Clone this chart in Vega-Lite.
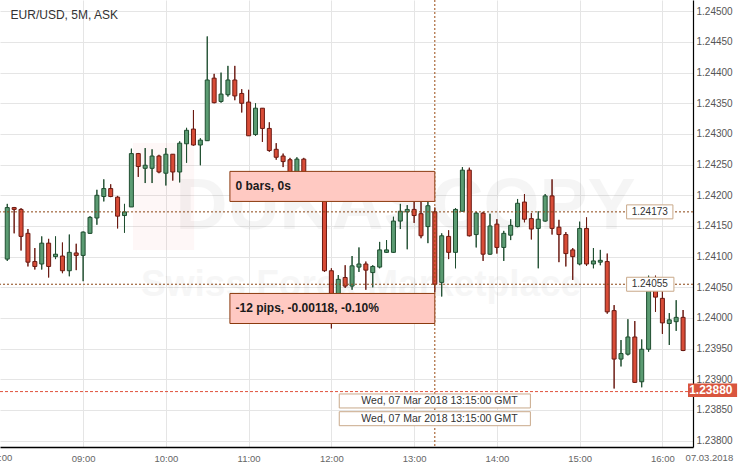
{
  "$schema": "https://vega.github.io/schema/vega-lite/v6.json",
  "width": 693,
  "height": 447,
  "autosize": {"type": "none"},
  "padding": {"left": 0, "top": 0, "right": 50, "bottom": 20},
  "background": "#ffffff",
  "config": {"view": {"stroke": null}, "font": "Liberation Sans"},
  "datasets": {
    "candles": [
      {"t":"2018-03-07T08:05:00Z","o":1.24096,"h":1.24186,"l":1.24093,"c":1.24180},
      {"t":"2018-03-07T08:10:00Z","o":1.24180,"h":1.24181,"l":1.24138,"c":1.24177},
      {"t":"2018-03-07T08:15:00Z","o":1.24177,"h":1.24179,"l":1.24110,"c":1.24133},
      {"t":"2018-03-07T08:20:00Z","o":1.24138,"h":1.24145,"l":1.24084,"c":1.24091},
      {"t":"2018-03-07T08:25:00Z","o":1.24092,"h":1.24114,"l":1.24079,"c":1.24084},
      {"t":"2018-03-07T08:30:00Z","o":1.24088,"h":1.24133,"l":1.24079,"c":1.24122},
      {"t":"2018-03-07T08:35:00Z","o":1.24122,"h":1.24129,"l":1.24066,"c":1.24084},
      {"t":"2018-03-07T08:40:00Z","o":1.24100,"h":1.24133,"l":1.24096,"c":1.24104},
      {"t":"2018-03-07T08:45:00Z","o":1.24101,"h":1.24123,"l":1.24073,"c":1.24077},
      {"t":"2018-03-07T08:50:00Z","o":1.24077,"h":1.24136,"l":1.24068,"c":1.24107},
      {"t":"2018-03-07T08:55:00Z","o":1.24106,"h":1.24121,"l":1.24078,"c":1.24102},
      {"t":"2018-03-07T09:00:00Z","o":1.24102,"h":1.24141,"l":1.24060,"c":1.24140},
      {"t":"2018-03-07T09:05:00Z","o":1.24138,"h":1.24166,"l":1.24137,"c":1.24164},
      {"t":"2018-03-07T09:10:00Z","o":1.24163,"h":1.24209,"l":1.24152,"c":1.24200},
      {"t":"2018-03-07T09:15:00Z","o":1.24198,"h":1.24226,"l":1.24190,"c":1.24211},
      {"t":"2018-03-07T09:20:00Z","o":1.24211,"h":1.24218,"l":1.24197,"c":1.24198},
      {"t":"2018-03-07T09:25:00Z","o":1.24197,"h":1.24199,"l":1.24146,"c":1.24166},
      {"t":"2018-03-07T09:30:00Z","o":1.24167,"h":1.24186,"l":1.24139,"c":1.24173},
      {"t":"2018-03-07T09:35:00Z","o":1.24181,"h":1.24276,"l":1.24181,"c":1.24268},
      {"t":"2018-03-07T09:40:00Z","o":1.24268,"h":1.24269,"l":1.24230,"c":1.24247},
      {"t":"2018-03-07T09:45:00Z","o":1.24244,"h":1.24277,"l":1.24220,"c":1.24249},
      {"t":"2018-03-07T09:50:00Z","o":1.24244,"h":1.24275,"l":1.24220,"c":1.24264},
      {"t":"2018-03-07T09:55:00Z","o":1.24264,"h":1.24266,"l":1.24236,"c":1.24238},
      {"t":"2018-03-07T10:00:00Z","o":1.24236,"h":1.24277,"l":1.24216,"c":1.24267},
      {"t":"2018-03-07T10:05:00Z","o":1.24267,"h":1.24267,"l":1.24224,"c":1.24238},
      {"t":"2018-03-07T10:10:00Z","o":1.24238,"h":1.24288,"l":1.24221,"c":1.24285},
      {"t":"2018-03-07T10:15:00Z","o":1.24284,"h":1.24310,"l":1.24253,"c":1.24306},
      {"t":"2018-03-07T10:20:00Z","o":1.24308,"h":1.24339,"l":1.24281,"c":1.24282},
      {"t":"2018-03-07T10:25:00Z","o":1.24282,"h":1.24293,"l":1.24249,"c":1.24290},
      {"t":"2018-03-07T10:30:00Z","o":1.24289,"h":1.24459,"l":1.24289,"c":1.24388},
      {"t":"2018-03-07T10:35:00Z","o":1.24391,"h":1.24398,"l":1.24350,"c":1.24351},
      {"t":"2018-03-07T10:40:00Z","o":1.24353,"h":1.24400,"l":1.24351,"c":1.24365},
      {"t":"2018-03-07T10:45:00Z","o":1.24364,"h":1.24411,"l":1.24361,"c":1.24388},
      {"t":"2018-03-07T10:50:00Z","o":1.24388,"h":1.24411,"l":1.24355,"c":1.24362},
      {"t":"2018-03-07T10:55:00Z","o":1.24366,"h":1.24373,"l":1.24335,"c":1.24350},
      {"t":"2018-03-07T11:00:00Z","o":1.24352,"h":1.24372,"l":1.24297,"c":1.24297},
      {"t":"2018-03-07T11:05:00Z","o":1.24299,"h":1.24350,"l":1.24297,"c":1.24342},
      {"t":"2018-03-07T11:10:00Z","o":1.24342,"h":1.24342,"l":1.24287,"c":1.24309},
      {"t":"2018-03-07T11:15:00Z","o":1.24309,"h":1.24319,"l":1.24271,"c":1.24273},
      {"t":"2018-03-07T11:20:00Z","o":1.24275,"h":1.24285,"l":1.24258,"c":1.24262},
      {"t":"2018-03-07T11:25:00Z","o":1.24264,"h":1.24268,"l":1.24246,"c":1.24255},
      {"t":"2018-03-07T11:30:00Z","o":1.24258,"h":1.24261,"l":1.24228,"c":1.24233},
      {"t":"2018-03-07T11:35:00Z","o":1.24235,"h":1.24262,"l":1.24225,"c":1.24259},
      {"t":"2018-03-07T11:40:00Z","o":1.24259,"h":1.24261,"l":1.24218,"c":1.24225},
      {"t":"2018-03-07T11:45:00Z","o":1.24217,"h":1.24232,"l":1.24209,"c":1.24228},
      {"t":"2018-03-07T11:50:00Z","o":1.24227,"h":1.24233,"l":1.24201,"c":1.24205},
      {"t":"2018-03-07T11:55:00Z","o":1.24205,"h":1.24217,"l":1.24075,"c":1.24077},
      {"t":"2018-03-07T12:00:00Z","o":1.24077,"h":1.24081,"l":1.23983,"c":1.24021},
      {"t":"2018-03-07T12:05:00Z","o":1.24029,"h":1.24070,"l":1.24013,"c":1.24063},
      {"t":"2018-03-07T12:10:00Z","o":1.24066,"h":1.24086,"l":1.24049,"c":1.24052},
      {"t":"2018-03-07T12:15:00Z","o":1.24052,"h":1.24101,"l":1.24046,"c":1.24085},
      {"t":"2018-03-07T12:20:00Z","o":1.24083,"h":1.24115,"l":1.24075,"c":1.24088},
      {"t":"2018-03-07T12:25:00Z","o":1.24088,"h":1.24092,"l":1.24046,"c":1.24078},
      {"t":"2018-03-07T12:30:00Z","o":1.24074,"h":1.24086,"l":1.24050,"c":1.24084},
      {"t":"2018-03-07T12:35:00Z","o":1.24083,"h":1.24124,"l":1.24081,"c":1.24111},
      {"t":"2018-03-07T12:40:00Z","o":1.24107,"h":1.24127,"l":1.24106,"c":1.24111},
      {"t":"2018-03-07T12:45:00Z","o":1.24107,"h":1.24165,"l":1.24106,"c":1.24158},
      {"t":"2018-03-07T12:50:00Z","o":1.24158,"h":1.24186,"l":1.24145,"c":1.24174},
      {"t":"2018-03-07T12:55:00Z","o":1.24173,"h":1.24184,"l":1.24112,"c":1.24177},
      {"t":"2018-03-07T13:00:00Z","o":1.24177,"h":1.24190,"l":1.24155,"c":1.24167},
      {"t":"2018-03-07T13:05:00Z","o":1.24170,"h":1.24190,"l":1.24130,"c":1.24134},
      {"t":"2018-03-07T13:10:00Z","o":1.24149,"h":1.24190,"l":1.24122,"c":1.24183},
      {"t":"2018-03-07T13:15:00Z","o":1.24173,"h":1.24180,"l":1.24042,"c":1.24055},
      {"t":"2018-03-07T13:20:00Z","o":1.24058,"h":1.24138,"l":1.24035,"c":1.24134},
      {"t":"2018-03-07T13:25:00Z","o":1.24133,"h":1.24143,"l":1.24096,"c":1.24107},
      {"t":"2018-03-07T13:30:00Z","o":1.24107,"h":1.24179,"l":1.24081,"c":1.24177},
      {"t":"2018-03-07T13:35:00Z","o":1.24174,"h":1.24246,"l":1.24174,"c":1.24241},
      {"t":"2018-03-07T13:40:00Z","o":1.24241,"h":1.24245,"l":1.24133,"c":1.24134},
      {"t":"2018-03-07T13:45:00Z","o":1.24136,"h":1.24173,"l":1.24115,"c":1.24171},
      {"t":"2018-03-07T13:50:00Z","o":1.24171,"h":1.24173,"l":1.24093,"c":1.24104},
      {"t":"2018-03-07T13:55:00Z","o":1.24104,"h":1.24170,"l":1.24103,"c":1.24150},
      {"t":"2018-03-07T14:00:00Z","o":1.24153,"h":1.24161,"l":1.24105,"c":1.24115},
      {"t":"2018-03-07T14:05:00Z","o":1.24115,"h":1.24142,"l":1.24093,"c":1.24138},
      {"t":"2018-03-07T14:10:00Z","o":1.24135,"h":1.24161,"l":1.24127,"c":1.24151},
      {"t":"2018-03-07T14:15:00Z","o":1.24149,"h":1.24194,"l":1.24148,"c":1.24187},
      {"t":"2018-03-07T14:20:00Z","o":1.24189,"h":1.24202,"l":1.24156,"c":1.24161},
      {"t":"2018-03-07T14:25:00Z","o":1.24162,"h":1.24171,"l":1.24128,"c":1.24145},
      {"t":"2018-03-07T14:30:00Z","o":1.24146,"h":1.24174,"l":1.24081,"c":1.24161},
      {"t":"2018-03-07T14:35:00Z","o":1.24158,"h":1.24202,"l":1.24157,"c":1.24199},
      {"t":"2018-03-07T14:40:00Z","o":1.24199,"h":1.24226,"l":1.24136,"c":1.24146},
      {"t":"2018-03-07T14:45:00Z","o":1.24148,"h":1.24160,"l":1.24091,"c":1.24136},
      {"t":"2018-03-07T14:50:00Z","o":1.24136,"h":1.24140,"l":1.24084,"c":1.24105},
      {"t":"2018-03-07T14:55:00Z","o":1.24111,"h":1.24114,"l":1.24062,"c":1.24100},
      {"t":"2018-03-07T15:00:00Z","o":1.24088,"h":1.24157,"l":1.24086,"c":1.24146},
      {"t":"2018-03-07T15:05:00Z","o":1.24146,"h":1.24164,"l":1.24085,"c":1.24088},
      {"t":"2018-03-07T15:10:00Z","o":1.24088,"h":1.24114,"l":1.24081,"c":1.24093},
      {"t":"2018-03-07T15:15:00Z","o":1.24091,"h":1.24111,"l":1.24086,"c":1.24094},
      {"t":"2018-03-07T15:20:00Z","o":1.24092,"h":1.24105,"l":1.24007,"c":1.24010},
      {"t":"2018-03-07T15:25:00Z","o":1.24012,"h":1.24021,"l":1.23885,"c":1.23933},
      {"t":"2018-03-07T15:30:00Z","o":1.23933,"h":1.23964,"l":1.23921,"c":1.23942},
      {"t":"2018-03-07T15:35:00Z","o":1.23941,"h":1.23998,"l":1.23939,"c":1.23969},
      {"t":"2018-03-07T15:40:00Z","o":1.23969,"h":1.23995,"l":1.23894,"c":1.23895},
      {"t":"2018-03-07T15:45:00Z","o":1.23896,"h":1.23965,"l":1.23887,"c":1.23949},
      {"t":"2018-03-07T15:50:00Z","o":1.23949,"h":1.24069,"l":1.23945,"c":1.24062},
      {"t":"2018-03-07T15:55:00Z","o":1.24059,"h":1.24069,"l":1.24010,"c":1.24034},
      {"t":"2018-03-07T16:00:00Z","o":1.24032,"h":1.24046,"l":1.23974,"c":1.23992},
      {"t":"2018-03-07T16:05:00Z","o":1.23991,"h":1.24008,"l":1.23956,"c":1.23997},
      {"t":"2018-03-07T16:10:00Z","o":1.23994,"h":1.24029,"l":1.23979,"c":1.24001},
      {"t":"2018-03-07T16:15:00Z","o":1.24001,"h":1.24013,"l":1.23946,"c":1.23947}
    ]
  },
  "layer": [
    {
      "data": {"name": "candles"},
      "mark": {"type": "rule", "strokeWidth": 1},
      "encoding": {
        "x": {
          "field": "t", "type": "temporal",
          "scale": {"type": "utc", "domain": [
            {"year": 2018, "month": 3, "date": 7, "hours": 8, "minutes": 3, "seconds": 22, "utc": true},
            {"year": 2018, "month": 3, "date": 7, "hours": 16, "minutes": 18, "seconds": 34, "utc": true}
          ]},
          "axis": {
            "title": null,
            "values": [
              {"year": 2018, "month": 3, "date": 7, "hours": 9, "utc": true},
              {"year": 2018, "month": 3, "date": 7, "hours": 10, "utc": true},
              {"year": 2018, "month": 3, "date": 7, "hours": 11, "utc": true},
              {"year": 2018, "month": 3, "date": 7, "hours": 12, "utc": true},
              {"year": 2018, "month": 3, "date": 7, "hours": 13, "utc": true},
              {"year": 2018, "month": 3, "date": 7, "hours": 14, "utc": true},
              {"year": 2018, "month": 3, "date": 7, "hours": 15, "utc": true},
              {"year": 2018, "month": 3, "date": 7, "hours": 16, "utc": true}
            ],
            "tickCount": 30,
            "format": "%H:%M",
            "grid": true, "gridColor": "#e5e5e5", "gridWidth": 1,
            "ticks": false,
            "domain": true, "domainColor": "#000000", "domainWidth": 1.5,
            "labelColor": "#666666", "labelFontSize": 9.5, "labelPadding": 6,
            "labelFlush": false, "labelOverlap": false
          }
        },
        "y": {
          "field": "l", "type": "quantitative",
          "scale": {"domain": [1.2378966, 1.245184], "nice": false, "zero": false},
          "axis": {
            "title": null, "orient": "right",
            "values": [1.238, 1.2385, 1.239, 1.2395, 1.24, 1.2405, 1.241, 1.2415, 1.242, 1.2425, 1.243, 1.2435, 1.244, 1.2445, 1.245],
            "tickCount": 30,
            "format": ".5f",
            "grid": true, "gridColor": "#e5e5e5", "gridWidth": 1,
            "ticks": false,
            "domain": true, "domainColor": "#000000", "domainWidth": 1.2,
            "labelColor": "#555555", "labelFontSize": 10, "labelPadding": 3,
            "labelFlush": false, "labelOverlap": false
          }
        },
        "y2": {"field": "h"},
        "color": {"condition": {"test": "datum.c >= datum.o", "value": "#1f4e30"}, "value": "#6b1a12"}
      }
    },
    {
      "data": {"values": [{"t1": "2018-03-07T09:36:13Z", "t2": "2018-03-07T10:20:30Z", "p1": 1.242853, "p2": 1.241108}]},
      "mark": {"type": "rect", "fill": "#e8303a", "opacity": 0.04},
      "encoding": {
        "x": {"field": "t1", "type": "temporal"},
        "x2": {"field": "t2"},
        "y": {"field": "p1", "type": "quantitative"},
        "y2": {"field": "p2"}
      }
    },
    {
      "data": {"values": [{"t": "2018-03-07T12:53:43Z", "p": 1.241817, "label": "DUKASCOPY"}]},
      "mark": {"type": "text", "fontWeight": "bold", "fontSize": 72, "align": "center", "baseline": "middle", "fill": "#000000", "opacity": 0.035},
      "encoding": {
        "x": {"field": "t", "type": "temporal"},
        "y": {"field": "p", "type": "quantitative"},
        "text": {"field": "label"}
      }
    },
    {
      "data": {"values": [{"t": "2018-03-07T12:21:34Z", "p": 1.240358, "label": "Swiss Forex Marketplace"}]},
      "mark": {"type": "text", "fontWeight": "bold", "fontSize": 37, "align": "center", "baseline": "alphabetic", "fill": "#000000", "opacity": 0.03},
      "encoding": {
        "x": {"field": "t", "type": "temporal"},
        "y": {"field": "p", "type": "quantitative"},
        "text": {"field": "label"}
      }
    },
    {
      "data": {"name": "candles"},
      "mark": {"type": "rule", "strokeWidth": 1},
      "encoding": {
        "x": {"field": "t", "type": "temporal"},
        "y": {"field": "l", "type": "quantitative"},
        "y2": {"field": "h"},
        "color": {"condition": {"test": "datum.c >= datum.o", "value": "#1f4e30"}, "value": "#6b1a12"}
      }
    },
    {
      "data": {"name": "candles"},
      "mark": {"type": "bar", "size": 4, "strokeWidth": 1},
      "encoding": {
        "x": {"field": "t", "type": "temporal"},
        "y": {"field": "o", "type": "quantitative"},
        "y2": {"field": "c"},
        "fill": {"condition": {"test": "datum.c >= datum.o", "value": "#5b9b72"}, "value": "#d84c37"},
        "stroke": {"condition": {"test": "datum.c >= datum.o", "value": "#1f4e30"}, "value": "#6b1a12"}
      }
    },
    {
      "data": {"values": [{"p": 1.24173}, {"p": 1.24055}]},
      "mark": {"type": "rule", "stroke": "#8b4513", "strokeWidth": 1, "strokeDash": [2, 2]},
      "encoding": {"y": {"field": "p", "type": "quantitative"}}
    },
    {
      "data": {"values": [{"p": 1.2388}]},
      "mark": {"type": "rule", "stroke": "#e0533d", "strokeWidth": 1, "strokeDash": [3, 2]},
      "encoding": {"y": {"field": "p", "type": "quantitative"}}
    },
    {
      "data": {"values": [{"t": "2018-03-07T13:15:00Z"}]},
      "mark": {"type": "rule", "stroke": "#9a4a12", "strokeWidth": 1, "strokeDash": [2, 2]},
      "encoding": {"x": {"field": "t", "type": "temporal"}}
    },
    {
      "data": {"values": [
        {"t1": "2018-03-07T10:46:26Z", "t2": "2018-03-07T13:15:00Z", "p1": 1.24239, "p2": 1.24190},
        {"t1": "2018-03-07T10:46:26Z", "t2": "2018-03-07T13:15:00Z", "p1": 1.24040, "p2": 1.23991}
      ]},
      "mark": {"type": "rect", "fill": "#ffc9c2", "stroke": "#8b3a0e", "strokeWidth": 1},
      "encoding": {
        "x": {"field": "t1", "type": "temporal"},
        "x2": {"field": "t2"},
        "y": {"field": "p1", "type": "quantitative"},
        "y2": {"field": "p2"}
      }
    },
    {
      "data": {"values": [
        {"t": "2018-03-07T10:50:30Z", "p": 1.242147, "label": "0 bars, 0s"},
        {"t": "2018-03-07T10:50:30Z", "p": 1.240158, "label": "-12 pips, -0.00118, -0.10%"}
      ]},
      "mark": {"type": "text", "fontSize": 12, "fontWeight": "bold", "align": "left", "baseline": "middle", "fill": "#1a1a1a"},
      "encoding": {
        "x": {"field": "t", "type": "temporal"},
        "y": {"field": "p", "type": "quantitative"},
        "text": {"field": "label"}
      }
    },
    {
      "data": {"values": [
        {"t1": "2018-03-07T15:34:04Z", "t2": "2018-03-07T16:07:38Z", "p1": 1.241844, "p2": 1.241616},
        {"t1": "2018-03-07T15:34:04Z", "t2": "2018-03-07T16:08:21Z", "p1": 1.240664, "p2": 1.240436},
        {"t1": "2018-03-07T12:05:43Z", "t2": "2018-03-07T14:24:17Z", "p1": 1.238761, "p2": 1.238533},
        {"t1": "2018-03-07T12:05:43Z", "t2": "2018-03-07T14:24:17Z", "p1": 1.238472, "p2": 1.238244}
      ]},
      "mark": {"type": "rect", "fill": "#ffffff", "stroke": "#c9a98a", "strokeWidth": 1},
      "encoding": {
        "x": {"field": "t1", "type": "temporal"},
        "x2": {"field": "t2"},
        "y": {"field": "p1", "type": "quantitative"},
        "y2": {"field": "p2"}
      }
    },
    {
      "data": {"values": [
        {"t": "2018-03-07T15:50:51Z", "p": 1.24173, "label": "1.24173"},
        {"t": "2018-03-07T15:50:51Z", "p": 1.24055, "label": "1.24055"}
      ]},
      "mark": {"type": "text", "fontSize": 10, "align": "center", "baseline": "middle", "fill": "#333333"},
      "encoding": {
        "x": {"field": "t", "type": "temporal"},
        "y": {"field": "p", "type": "quantitative"},
        "text": {"field": "label"}
      }
    },
    {
      "data": {"values": [
        {"t": "2018-03-07T13:18:21Z", "p": 1.238647, "label": "Wed, 07 Mar 2018 13:15:00 GMT"},
        {"t": "2018-03-07T13:18:21Z", "p": 1.238358, "label": "Wed, 07 Mar 2018 13:15:00 GMT"}
      ]},
      "mark": {"type": "text", "fontSize": 10.5, "align": "center", "baseline": "middle", "fill": "#333333"},
      "encoding": {
        "x": {"field": "t", "type": "temporal"},
        "y": {"field": "p", "type": "quantitative"},
        "text": {"field": "label"}
      }
    },
    {
      "data": {"values": [{"t1": "2018-03-07T16:18:34Z", "t2": "2018-03-07T16:54:10Z", "p1": 1.23893, "p2": 1.23871}]},
      "mark": {"type": "rect", "fill": "#d9553e"},
      "encoding": {
        "x": {"field": "t1", "type": "temporal"},
        "x2": {"field": "t2"},
        "y": {"field": "p1", "type": "quantitative"},
        "y2": {"field": "p2"}
      }
    },
    {
      "data": {"values": [{"t": "2018-03-07T16:35:08Z", "p": 1.23882, "label": "1.23880"}]},
      "mark": {"type": "text", "fontSize": 12, "fontWeight": "bold", "align": "center", "baseline": "middle", "fill": "#ffffff"},
      "encoding": {
        "x": {"field": "t", "type": "temporal"},
        "y": {"field": "p", "type": "quantitative"},
        "text": {"field": "label"}
      }
    },
    {
      "data": {"values": [{"t": "2018-03-07T08:07:26Z", "p": 1.244935, "label": "EUR/USD, 5M, ASK"}]},
      "mark": {"type": "text", "fontSize": 12, "align": "left", "baseline": "middle", "fill": "#333333"},
      "encoding": {
        "x": {"field": "t", "type": "temporal"},
        "y": {"field": "p", "type": "quantitative"},
        "text": {"field": "label"}
      }
    },
    {
      "data": {"values": [
        {"t": "2018-03-07T08:00:00Z", "p": 1.237712, "label": "08:00"},
        {"t": "2018-03-07T16:34:04Z", "p": 1.237712, "label": "07.03.2018"}
      ]},
      "mark": {"type": "text", "fontSize": 9.5, "align": "center", "baseline": "middle", "fill": "#666666"},
      "encoding": {
        "x": {"field": "t", "type": "temporal"},
        "y": {"field": "p", "type": "quantitative"},
        "text": {"field": "label"}
      }
    }
  ]
}
